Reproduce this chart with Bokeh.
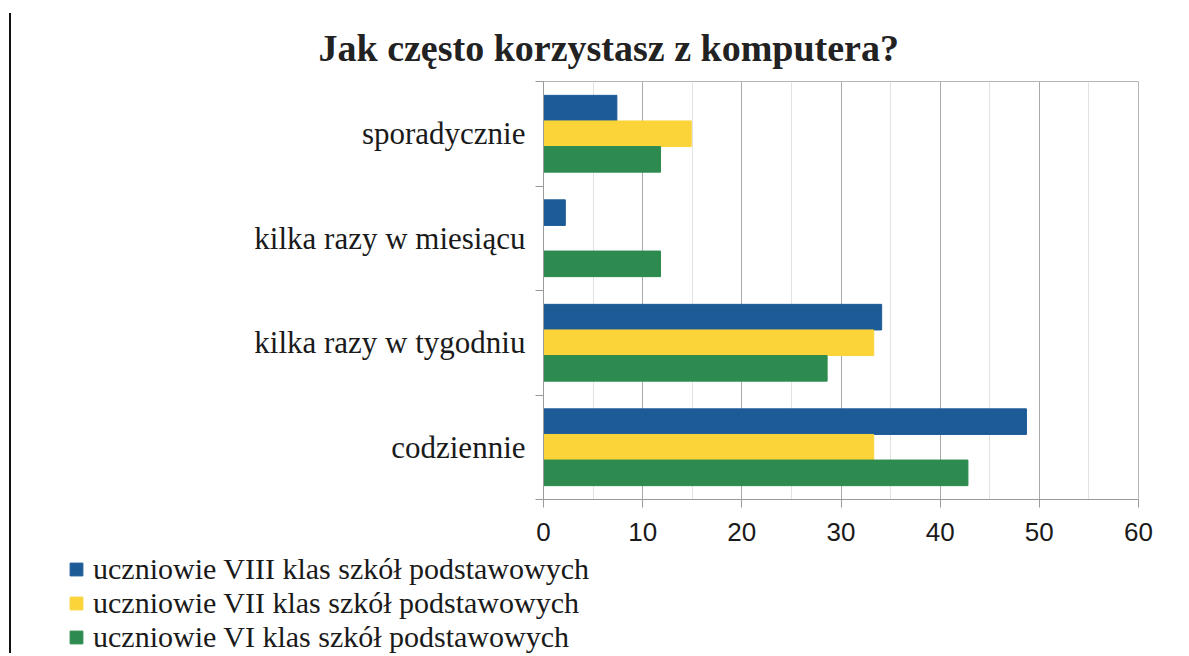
from bokeh.plotting import figure
from bokeh.models import (ColumnDataSource, FixedTicker, Legend, LegendItem, Title, Div)
from bokeh.layouts import row, column
from bokeh.embed import file_html
from bokeh.resources import INLINE

# ---- data (bottom to top on the chart) ----
categories = ["codziennie", "kilka razy w tygodniu", "kilka razy w miesiącu", "sporadycznie"]
series_names = ["uczniowie VIII klas szkół podstawowych",
                "uczniowie VII klas szkół podstawowych",
                "uczniowie VI klas szkół podstawowych"]
klasa_8 = [48.7, 34.1, 2.2, 7.4]
klasa_7 = [33.3, 33.3, 0.0, 14.9]
klasa_6 = [42.8, 28.6, 11.8, 11.8]
x_ticks = [0, 10, 20, 30, 40, 50, 60]
title_text = "Jak często korzystasz z komputera?"

colors = ["#1d5b97", "#fbd43a", "#2e8b4f"]
series_values = [klasa_8, klasa_7, klasa_6]
offsets = [0.245, 0.0, -0.245]
bar_h = 0.245

p = figure(width=1169, height=550, x_range=(0, 60), y_range=(0, 4),
           output_backend="svg", toolbar_location=None,
           min_border_left=532, min_border_right=42,
           min_border_top=81, min_border_bottom=51,
           background_fill_color="white", border_fill_color="white")
p.outline_line_color = "#b5b5b5"
p.outline_line_width = 1

cat_pos = [i + 0.5 for i in range(len(categories))]
sources = []
for name, vals, col, off in zip(series_names, series_values, colors, offsets):
    src = ColumnDataSource(dict(y=[c + off for c in cat_pos], right=vals, cat=categories))
    sources.append(src)
    p.hbar(y="y", right="right", left=0, height=bar_h, source=src,
           fill_color=col, line_color=col, line_width=1)

# x axis
xt = FixedTicker(ticks=x_ticks, minor_ticks=list(range(0, 61, 5)))
p.xaxis.ticker = xt
p.xgrid.ticker = xt
p.xgrid.grid_line_color = "#a9a9a9"
p.xgrid.grid_line_width = 1
p.xgrid.minor_grid_line_color = "#e2e2e2"
p.xaxis.axis_line_color = "#9a9a9a"
p.xaxis.major_tick_line_color = "#9a9a9a"
p.xaxis.major_tick_out = 8
p.xaxis.major_tick_in = 0
p.xaxis.minor_tick_out = 0
p.xaxis.minor_tick_in = 0
p.xaxis.major_label_text_font = "Liberation Sans"
p.xaxis.major_label_text_font_size = "26px"
p.xaxis.major_label_text_color = "#1a1a1a"
p.xaxis.major_label_standoff = 15

# y axis
yt = FixedTicker(ticks=cat_pos, minor_ticks=[0, 1, 2, 3, 4])
p.yaxis.ticker = yt
p.ygrid.visible = False
p.yaxis.major_label_overrides = {c: name for c, name in zip(cat_pos, categories)}
p.yaxis.axis_line_color = "#9a9a9a"
p.yaxis.major_tick_out = 0
p.yaxis.major_tick_in = 0
p.yaxis.minor_tick_out = 8
p.yaxis.minor_tick_in = 0
p.yaxis.minor_tick_line_color = "#9a9a9a"
p.yaxis.major_label_text_font = "Liberation Serif"
p.yaxis.major_label_text_font_size = "31px"
p.yaxis.major_label_text_color = "#1a1a1a"
p.yaxis.major_label_standoff = 10

# title
p.title = Title(text=title_text, align="left", offset=-225, standoff=25,
                text_font="Liberation Serif", text_font_size="38px",
                text_font_style="bold", text_color="#222222")

# legend in its own strip below the chart (bars there lie outside its visible range)
lf = figure(width=1169, height=104, x_range=(0, 60), y_range=(100, 101),
            x_axis_type=None, y_axis_type=None,
            output_backend="svg", toolbar_location=None,
            min_border_left=57, min_border_top=2, min_border_right=0, min_border_bottom=0,
            background_fill_color="white", border_fill_color="white")
lf.outline_line_color = None
lf.grid.visible = False
items = []
for name, col, src in zip(series_names, colors, sources):
    r = lf.hbar(y="y", right="right", left=0, height=bar_h, source=src,
                fill_color=col, line_color=col)
    items.append(LegendItem(label=name, renderers=[r]))
legend = Legend(items=items, location="top_left", orientation="vertical",
                label_text_font="Liberation Serif", label_text_font_size="30px",
                label_text_color="#1a1a1a", glyph_width=16, glyph_height=16,
                label_standoff=9, spacing=0, padding=0, margin=0,
                border_line_color=None, background_fill_alpha=0)
lf.add_layout(legend, "center")

for fig in (p, lf):
    try:
        fig.frame_align = False
    except AttributeError:
        pass

# scanned page left edge
edge = Div(width=2, height=640, margin=(13, 0, 0, 9),
           styles={"background-color": "#111111"})

layout = row(edge, column(p, lf, spacing=0), spacing=0)
open("out.html", "w").write(file_html(layout, INLINE))
